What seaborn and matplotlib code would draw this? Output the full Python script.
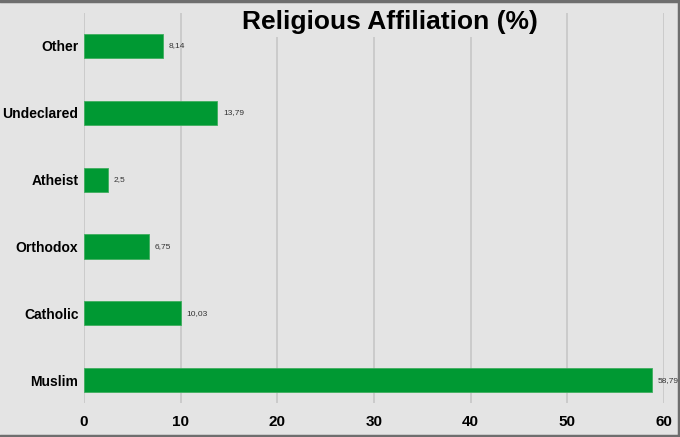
import matplotlib
matplotlib.use("Agg")
import matplotlib.pyplot as plt
from matplotlib.patches import Rectangle
from matplotlib.lines import Line2D
import seaborn as sns
import pandas as pd

categories = ["Other", "Undeclared", "Atheist", "Orthodox", "Catholic", "Muslim"]
values = [8.14, 13.79, 2.5, 6.75, 10.03, 58.79]
value_labels = ["8,14", "13,79", "2,5", "6,75", "10,03", "58,79"]
x_ticks = [0, 10, 20, 30, 40, 50, 60]

bg = "#e4e4e4"
green = "#009933"

sns.set_style("white")
plt.rcParams["font.family"] = ["Liberation Sans", "DejaVu Sans"]

df = pd.DataFrame({"religion": categories, "pct": values})

fig = plt.figure(figsize=(6.8, 4.37), dpi=100)
fig.patch.set_facecolor(bg)
ax = fig.add_axes([84 / 680, 1 - 403 / 437, (664 - 84) / 680, (403 - 13) / 437])
ax.set_facecolor(bg)

sns.barplot(data=df, y="religion", x="pct", order=categories, orient="h",
            color=green, width=0.36, edgecolor="#3fae5e", linewidth=0.6,
            saturation=1, ax=ax, zorder=3)

ax.bar_label(ax.containers[0], labels=value_labels, padding=4,
             fontsize=6, color="#333333")

ax.set_xlim(0, 60)
ax.set_ylim(5.34, -0.49)
ax.set_xticks(x_ticks)
ax.set_xticklabels([str(t) for t in x_ticks], fontsize=11, fontweight="bold",
                   color="black")
ax.set_yticklabels(categories, fontsize=10, fontweight="bold", color="black")
ax.tick_params(axis="x", length=0, pad=9)
ax.tick_params(axis="y", length=0, pad=4)
ax.grid(axis="x", color="#c9c9c9", linewidth=1.3, zorder=0)
ax.set_axisbelow(True)
ax.set_xlabel("")
ax.set_ylabel("")
for s in ax.spines.values():
    s.set_visible(False)

# title box covering the tops of the gridlines
fig.add_artist(Rectangle((230 / 680, 1 - 37 / 437), 330 / 680, 37 / 437,
                         transform=fig.transFigure, facecolor=bg,
                         edgecolor="none", zorder=5))
fig.text(390 / 680, 1 - 22 / 437, "Religious Affiliation (%)", ha="center",
         va="center", fontsize=19, fontweight="bold", color="black", zorder=6)

# frame around the picture
frame = dict(transform=fig.transFigure, color="#6e6e6e", linewidth=2.5, zorder=7)
fig.add_artist(Line2D([0, 1], [0.998, 0.998], **frame))
fig.add_artist(Line2D([0.998, 0.998], [0, 1], **frame))
fig.add_artist(Line2D([0, 1], [0.002, 0.002], **frame))

fig.savefig("out.png", dpi=100, facecolor=bg)
